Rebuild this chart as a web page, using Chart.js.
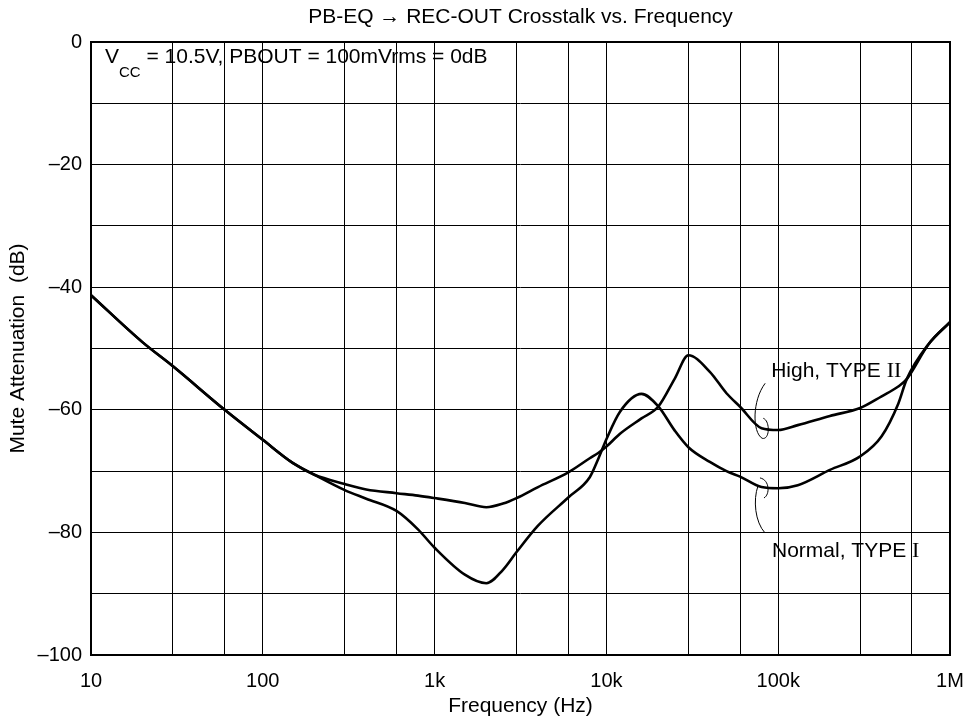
<!DOCTYPE html>
<html>
<head>
<meta charset="utf-8">
<script src="https://cdn.jsdelivr.net/npm/chart.js@4.4.1/dist/chart.umd.min.js"></script>
<style>
  html, body { margin: 0; padding: 0; background: #fff; }
  #wrap { width: 972px; height: 721px; }
</style>
</head>
<body>
<div id="wrap"><canvas id="crosstalkChart" width="972" height="721"></canvas></div>
<script>
const freqs = [10, 20, 30, 60, 100, 150, 200, 300, 400, 600, 800, 1000, 1500, 2000, 2500, 3000, 4000, 6000, 8000, 9000,
  10000, 12000, 16000, 20000, 25000, 30000, 40000, 50000, 60000, 80000, 100000, 130000, 200000, 300000, 400000,
  500000, 560000, 750000, 1000000];

const highType2 = [-41.3, -49, -52.9, -60, -64.9, -68.7, -70.6, -72.1, -73.0, -73.6, -74.0, -74.4, -75.2, -75.9, -75.3, -74.4, -72.6, -70.2, -67.9, -67.0,
  -66.0, -63.9, -61.4, -59.5, -54.9, -51.1, -53.8, -57.3, -59.5, -63, -63.3, -62.5, -61, -59.7, -57.8,
  -56.2, -55, -49.3, -45.7];

const normalType1 = [-41.3, -49, -52.9, -60, -64.9, -68.7, -70.6, -73.1, -74.5, -76.5, -79.5, -82.5, -86.9, -88.3, -86.1, -83.2, -78.9, -74.3, -71, -67.9,
  -64.8, -60.3, -57.4, -59.4, -63.4, -66.1, -68.5, -70, -70.9, -72.6, -72.8, -72.3, -69.8, -67.6, -64.3,
  -59, -55, -49.3, -45.7];

const gridFreqs = [10, 30, 60, 100, 300, 600, 1000, 3000, 6000, 10000, 30000, 60000, 100000, 300000, 600000, 1000000];
const freqLabels = { 10: '10', 100: '100', 1000: '1k', 10000: '10k', 100000: '100k', 1000000: '1M' };

const FONT = '"Liberation Sans", Arial, Helvetica, sans-serif';
const SERIF = '"Liberation Serif", "Times New Roman", serif';

const extras = {
  id: 'extras',
  afterDraw(chart) {
    const { ctx, chartArea: a, scales: { x, y } } = chart;
    ctx.save();

    ctx.strokeStyle = '#000';
    ctx.lineWidth = 2;
    ctx.strokeRect(a.left, a.top, a.right - a.left, a.bottom - a.top);

    ctx.fillStyle = '#000';
    ctx.textBaseline = 'middle';
    ctx.textAlign = 'center';
    ctx.font = '21px ' + FONT;
    ctx.fillText('PB-EQ \u2192 REC-OUT Crosstalk vs. Frequency', (a.left + a.right) / 2, 17);

    ctx.textAlign = 'left';
    ctx.textBaseline = 'alphabetic';
    let tx = a.left + 14;
    const ty = a.top + 21;
    ctx.font = '21px ' + FONT;
    ctx.fillText('V', tx, ty);
    tx += ctx.measureText('V').width;
    ctx.font = '15px ' + FONT;
    ctx.fillText('CC', tx, ty + 14);
    tx += ctx.measureText('CC').width;
    ctx.font = '21px ' + FONT;
    ctx.fillText(' = 10.5V, PBOUT = 100mVrms = 0dB', tx, ty);

    const hx = x.getPixelForValue(91000), hy = y.getPixelForValue(-54.7);
    const nx = x.getPixelForValue(92000), ny = y.getPixelForValue(-84.0);
    drawLabel(ctx, hx, hy, 'High, TYPE ', 'II');
    drawLabel(ctx, nx, ny, 'Normal, TYPE ', 'I');

    ctx.lineWidth = 1;
    ctx.beginPath();
    ctx.moveTo(hx - 6, hy + 6);
    ctx.bezierCurveTo(hx - 19, hy + 23, hx - 19, hy + 55, hx - 9, hy + 61);
    ctx.bezierCurveTo(hx - 1, hy + 63, hx - 1, hy + 43, hx - 8, hy + 41);
    ctx.stroke();

    ctx.beginPath();
    ctx.moveTo(nx - 12, ny - 79);
    ctx.bezierCurveTo(nx - 2, ny - 77, nx - 2, ny - 62, nx - 8, ny - 59);
    ctx.moveTo(nx - 14, ny - 71);
    ctx.bezierCurveTo(nx - 19, ny - 57, nx - 17, ny - 35, nx - 7, ny - 24);
    ctx.stroke();

    ctx.restore();
  }
};

function drawLabel(ctx, px, py, text, roman) {
  ctx.textAlign = 'left';
  ctx.textBaseline = 'alphabetic';
  ctx.fillStyle = '#000';
  ctx.font = '21px ' + FONT;
  ctx.fillText(text, px, py);
  const w = ctx.measureText(text).width;
  ctx.font = '22px ' + SERIF;
  ctx.fillText(roman, px + w, py);
}

function makeSeries(values) {
  return freqs.map((f, i) => ({ x: f, y: values[i] }));
}

const lineStyle = {
  borderColor: '#000',
  borderWidth: 2.6,
  pointRadius: 0,
  fill: false,
  cubicInterpolationMode: 'monotone'
};

new Chart(document.getElementById('crosstalkChart'), {
  type: 'line',
  data: {
    datasets: [
      { label: 'High, TYPE II', data: makeSeries(highType2), ...lineStyle },
      { label: 'Normal, TYPE I', data: makeSeries(normalType1), ...lineStyle }
    ]
  },
  options: {
    responsive: false,
    animation: false,
    devicePixelRatio: 1,
    layout: { padding: { top: 42, right: 22, bottom: 0, left: 0 } },
    plugins: { legend: { display: false }, title: { display: false }, tooltip: { enabled: false } },
    scales: {
      x: {
        type: 'logarithmic',
        min: 10,
        max: 1000000,
        afterBuildTicks: s => { s.ticks = gridFreqs.map(v => ({ value: v })); },
        afterFit: s => { s.height = 66; s.paddingLeft = 0; s.paddingRight = 0; },
        grid: { color: '#000', lineWidth: 1, drawTicks: false },
        border: { display: false },
        ticks: {
          autoSkip: false,
          maxRotation: 0,
          padding: 14,
          color: '#000',
          font: { family: FONT, size: 20 },
          callback: v => freqLabels[v] || ''
        },
        title: { display: true, text: 'Frequency (Hz)', color: '#000', font: { family: FONT, size: 21 }, padding: { top: 0, bottom: 2 } }
      },
      y: {
        min: -100,
        max: 0,
        afterFit: s => { s.width = 91; },
        grid: { color: '#000', lineWidth: 1, drawTicks: false },
        border: { display: false },
        ticks: {
          stepSize: 10,
          padding: 9,
          color: '#000',
          font: { family: FONT, size: 20 },
          callback: v => v % 20 === 0 ? (v < 0 ? '\u2013' + Math.abs(v) : '0') : ''
        },
        title: { display: true, text: 'Mute Attenuation  (dB)', color: '#000', font: { family: FONT, size: 21 }, padding: { top: 6, bottom: 0 } }
      }
    }
  },
  plugins: [extras]
});
</script>
</body>
</html>
